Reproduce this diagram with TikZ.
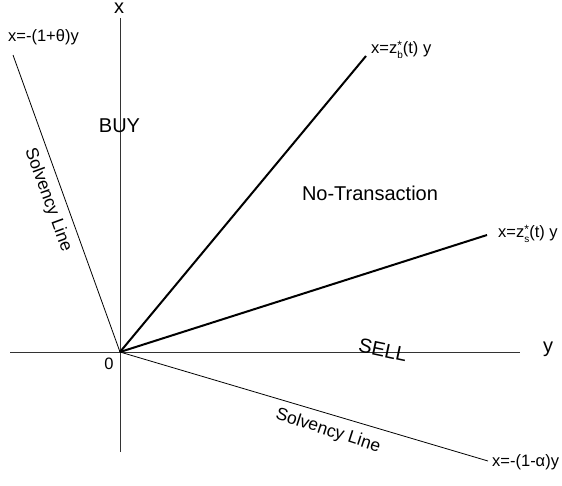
\documentclass[tikz,border=0pt]{standalone}
\usepackage{fontspec}
\setmainfont{Liberation Sans}
\begin{document}
\begin{tikzpicture}[x=1pt,y=-1pt,
  axis/.style={line width=0.9pt,black!80},
  solv/.style={line width=0.8pt,black},
  opt/.style={line width=2pt,black},
  big/.style={font=\fontsize{20}{24}\selectfont,inner sep=0pt},
  eqn/.style={font=\fontsize{16.5}{20}\selectfont,inner sep=0pt},
  mid/.style={font=\fontsize{17.5}{21}\selectfont,inner sep=0pt}]
\useasboundingbox (0,0) rectangle (562,485);
% coordinates
\coordinate (O) at (120,352);
\coordinate (xtop) at (120,18);
\coordinate (xbot) at (120,452);
\coordinate (yl) at (10,352);
\coordinate (yr) at (520,352);
\coordinate (s1) at (13,55);
\coordinate (s2) at (488,461);
\coordinate (zb) at (366,56);
\coordinate (zs) at (487,235);
% axes
\draw[axis] (xbot) -- (xtop);
\draw[axis] (yl) -- (yr);
% lines
\draw[solv] (s1) -- (O);
\draw[solv] (O) -- (s2);
\draw[opt] (O) -- (zb);
\draw[opt] (O) -- (zs);
% labels
\node[big] (lx) at (119,8) {x};
\node[big] (ly) at (548,349) {y};
\node[eqn] (l0) at (109,364) {0};
\node[eqn,anchor=west] (lth) at (8,37) {x=-(1+θ)y};
\node[eqn,anchor=west] (lzb) at (371,50) {x=z\rlap{\raisebox{0.28em}{\fontsize{12}{12}\selectfont *}}\raisebox{-0.3em}{\fontsize{10}{10}\selectfont b}(t) y};
\node[eqn,anchor=west] (lzs) at (498,234) {x=z\rlap{\raisebox{0.28em}{\fontsize{12}{12}\selectfont *}}\raisebox{-0.3em}{\fontsize{10}{10}\selectfont s}(t) y};
\node[eqn,anchor=west] (lal) at (492,462) {x=-(1-α)y};
\node[big] (buy) at (119.5,125.5) {BUY};
\node[big] (nt) at (370,193) {No-Transaction};
\node[big,rotate=-12] (sell) at (383,350) {SELL};
\node[mid,rotate=-70] (sv1) at (48,200) {Solvency Line};
\node[mid,rotate=-18] (sv2) at (328,431) {Solvency Line};
\end{tikzpicture}
\end{document}
